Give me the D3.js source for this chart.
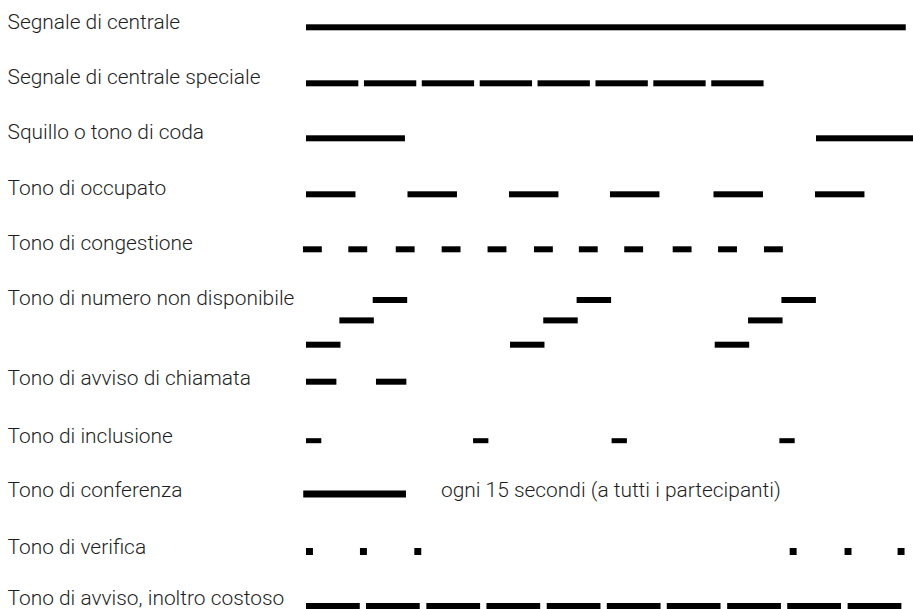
<!DOCTYPE html>
<html>
<head>
<meta charset="utf-8">
<script src="https://cdn.jsdelivr.net/npm/d3@7/dist/d3.min.js"></script>
<style>
  html, body { margin: 0; padding: 0; background: #fff; }
  svg { display: block; }
  text { font-family: Roboto, "Liberation Sans", sans-serif; font-weight: 300; fill: #1e1e1e; }
</style>
</head>
<body>
<svg id="chart" width="913" height="609"></svg>
<script>
// ---------------- DATA (times in seconds) ----------------
const toneNames = [
  "Segnale di centrale",
  "Segnale di centrale speciale",
  "Squillo o tono di coda",
  "Tono di occupato",
  "Tono di congestione",
  "Tono di numero non disponibile",
  "Tono di avviso di chiamata",
  "Tono di inclusione",
  "Tono di conferenza",
  "Tono di verifica",
  "Tono di avviso, inoltro costoso"
];

// each tone: start times of its bursts and one burst duration
const dialStarts = [0];                 const dialDur = 5.88;
const specialStarts = [0, 0.568, 1.135, 1.703, 2.27, 2.838, 3.405, 3.973]; const specialDur = 0.513;
const ringStarts = [0, 5.0];            const ringDur = 0.97;
const busyStarts = [0, 0.995, 1.99, 2.98, 3.995, 4.99]; const busyDur = 0.485;
const congestionStarts = [-0.03, 0.415, 0.88, 1.33, 1.78, 2.235, 2.675, 3.12, 3.595, 4.04, 4.49]; const congestionDur = 0.185;
// number unavailable: three rising tones (950 / 1400 / 1800 Hz)
const unavailLevels = ["950", "1400", "1800"];
const unavail950Starts = [0, 2.0, 4.007];
const unavail1400Starts = [0.327, 2.326, 4.334];
const unavail1800Starts = [0.654, 2.653, 4.661];
const unavailDur = 0.338;
const waitingStarts = [0, 0.686];       const waitingDur = 0.298;
const inclusionStarts = [0, 1.638, 2.996, 4.641]; const inclusionDur = 0.15;
const conferenceStarts = [-0.027];      const conferenceDur = 1.007;
const conferenceNote = "ogni 15 secondi (a tutti i partecipanti)";
const checkStarts = [0, 0.529, 1.062, 4.742, 5.28, 5.80]; const checkDur = 0.068;
const costlyStarts = [0, 0.588, 1.18, 1.769, 2.36, 2.949, 3.537, 4.129, 4.718, 5.31]; const costlyDur = 0.527;

// ---------------- build table ----------------
function bursts(tone, starts, dur, level) {
  return starts.map(s => ({ tone, track: level ? tone + "#" + level : tone, start: s, end: s + dur }));
}
const segments = [].concat(
  bursts(toneNames[0], dialStarts, dialDur),
  bursts(toneNames[1], specialStarts, specialDur),
  bursts(toneNames[2], ringStarts, ringDur),
  bursts(toneNames[3], busyStarts, busyDur),
  bursts(toneNames[4], congestionStarts, congestionDur),
  bursts(toneNames[5], unavail950Starts, unavailDur, unavailLevels[0]),
  bursts(toneNames[5], unavail1400Starts, unavailDur, unavailLevels[1]),
  bursts(toneNames[5], unavail1800Starts, unavailDur, unavailLevels[2]),
  bursts(toneNames[6], waitingStarts, waitingDur),
  bursts(toneNames[7], inclusionStarts, inclusionDur),
  bursts(toneNames[8], conferenceStarts, conferenceDur),
  bursts(toneNames[9], checkStarts, checkDur),
  bursts(toneNames[10], costlyStarts, costlyDur)
);

// ---------------- layout ----------------
const svg = d3.select("#chart");
const x = d3.scaleLinear().domain([0, 6]).range([306, 918]);

const tracks = [
  toneNames[0], toneNames[1], toneNames[2], toneNames[3], toneNames[4],
  toneNames[5] + "#1800", toneNames[5] + "#1400", toneNames[5] + "#950",
  toneNames[6], toneNames[7], toneNames[8], toneNames[9], toneNames[10]
];
const trackY = d3.scaleOrdinal().domain(tracks)
  .range([27.3, 83.3, 138.3, 194.3, 249.3, 300, 320.4, 344.7, 381.7, 440.7, 494, 551.5, 606]);
const labelY = d3.scaleOrdinal().domain(toneNames)
  .range([28.6, 83.8, 138.8, 194.8, 250, 305, 385, 442.5, 497.3, 553.5, 605]);
const thickness = d3.scaleOrdinal().domain(toneNames)
  .range([6, 6, 6, 6, 6, 6, 6, 5, 7, 7, 6]);

// font size fitted so the longest label spans as in the picture
const probe = svg.append("text").attr("font-size", 20).text(toneNames[5]);
const probeLen = probe.node().getComputedTextLength();
probe.remove();
const fontSize = 20 * 287 / probeLen;

// labels
svg.append("g").selectAll("text")
  .data(toneNames)
  .join("text")
  .attr("x", 7.5)
  .attr("y", d => labelY(d))
  .attr("font-size", fontSize)
  .text(d => d);

// bursts
svg.append("g").selectAll("rect")
  .data(segments)
  .join("rect")
  .attr("x", d => x(d.start))
  .attr("width", d => x(d.end) - x(d.start))
  .attr("y", d => trackY(d.track) - thickness(d.tone) / 2)
  .attr("height", d => thickness(d.tone))
  .attr("fill", "#000");

// conference note
svg.append("text")
  .attr("x", 441)
  .attr("y", labelY(toneNames[8]))
  .attr("font-size", fontSize)
  .text(conferenceNote);
</script>
</body>
</html>
